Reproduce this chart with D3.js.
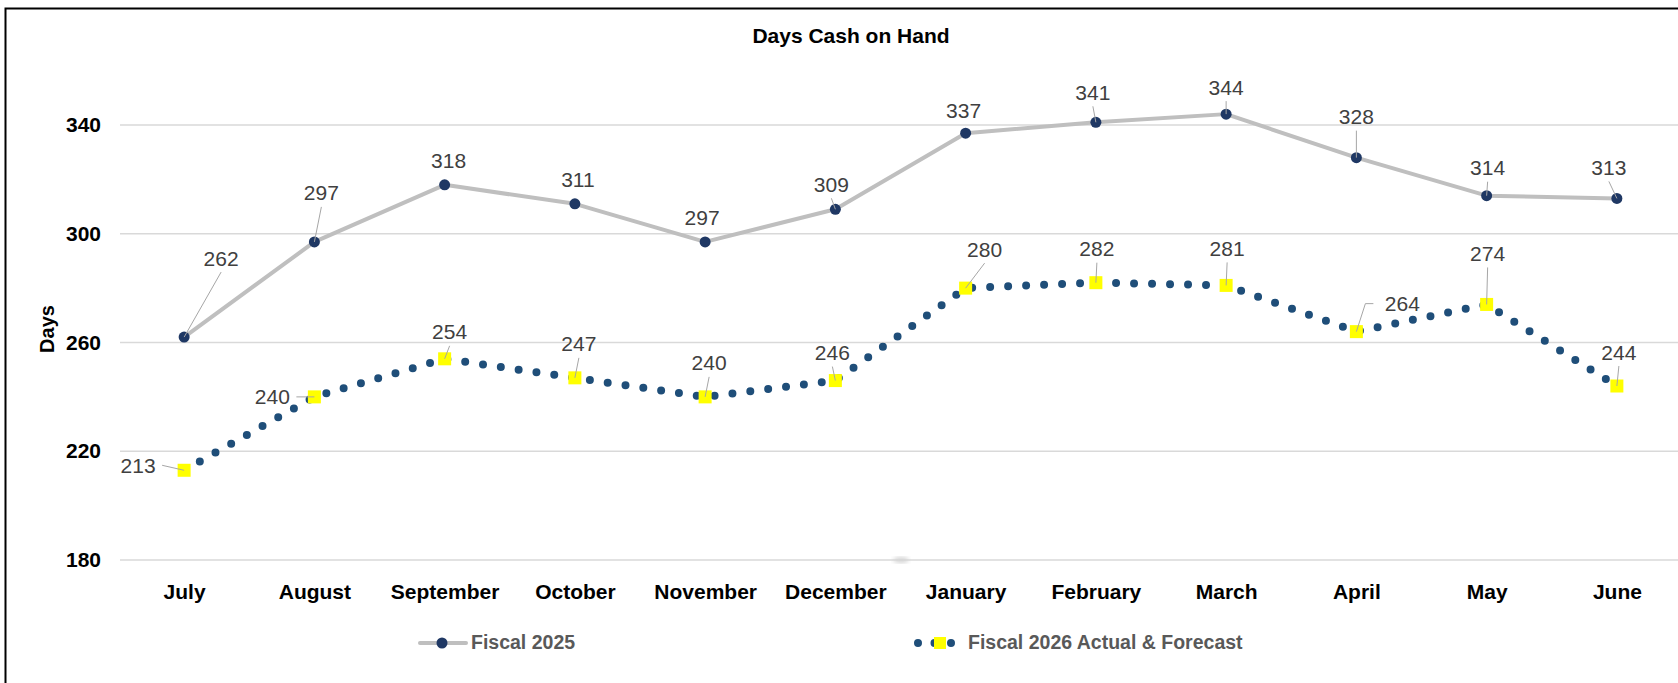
<!DOCTYPE html>
<html>
<head>
<meta charset="utf-8">
<script src="https://cdn.jsdelivr.net/npm/d3@7"></script>
<style>
  body { margin: 0; background: #fff; }
  svg { display: block; font-family: "Liberation Sans", Arial, sans-serif; }
</style>
</head>
<body>
<svg id="chart" width="1678" height="683"></svg>
<script>
const months = ["July", "August", "September", "October", "November", "December",
    "January", "February", "March", "April", "May", "June"];
const fiscal2025 = [262, 297, 318, 311, 297, 309, 337, 341, 344, 328, 314, 313];
const fiscal2026 = [213, 240, 254, 247, 240, 246, 280, 282, 281, 264, 274, 244];
const yTicks = [180, 220, 260, 300, 340];
const seriesNames = ["Fiscal 2025", "Fiscal 2026 Actual & Forecast"];

// where each data label sits relative to its point: dx, dy, leader type
// b = leader to label bottom, s = leader to label side, e = side with elbow
const labels2025 = [[37, -79, "b"], [7, -49, "b"], [4, -24, 0], [3, -24, 0], [-3, -24, 0], [-4, -25, "b"],
    [-2, -23, 0], [-3, -30, "b"], [0, -27, "b"], [0, -41, "b"], [1, -28, "b"], [-8, -31, "b"]];
const labels2026 = [[-46, -5, "s"], [-42, 0, "s"], [5, -27, "b"], [4, -34, "b"], [4, -34, "b"], [-3, -28, "b"],
    [19, -39, "b"], [1, -34, "b"], [1, -37, "b"], [46, -28, "e"], [1, -51, "b"], [2, -34, "b"]];

const svg = d3.select("#chart");

const x = d3.scalePoint()
    .domain(months)
    .range([119, 1682])
    .padding(0.5);

const y = d3.scaleLinear()
    .domain([180, 340])
    .range([560, 125]);

// frame
svg.append("rect")
    .attr("x", 5.5).attr("y", 8.5)
    .attr("width", 1800).attr("height", 800)
    .attr("fill", "none")
    .attr("stroke", "#000")
    .attr("stroke-width", 2);

// title
svg.append("text")
    .attr("x", 851).attr("y", 43)
    .attr("text-anchor", "middle")
    .style("font-size", "21px")
    .style("font-weight", "bold")
    .text("Days Cash on Hand");

// gridlines
svg.append("g")
    .selectAll("line")
    .data(yTicks)
    .join("line")
    .attr("x1", 120).attr("x2", 1682)
    .attr("y1", d => y(d)).attr("y2", d => y(d))
    .attr("stroke", "#d9d9d9")
    .attr("stroke-width", 1.5);

// faint smudge on the base line
const defs = svg.append("defs");
defs.append("filter").attr("id", "blur")
    .append("feGaussianBlur").attr("stdDeviation", 2);
svg.append("ellipse")
    .attr("cx", 901).attr("cy", 560).attr("rx", 8).attr("ry", 3)
    .attr("fill", "#d4d4d4")
    .attr("filter", "url(#blur)");

// y axis
const yAxis = svg.append("g")
    .attr("transform", "translate(101,0)")
    .call(d3.axisLeft(y).tickValues(yTicks).tickSize(0).tickPadding(0));
yAxis.select(".domain").remove();
yAxis.selectAll("text")
    .attr("fill", "#000")
    .style("font-size", "21px")
    .style("font-weight", "bold")
    .style("font-family", "'Liberation Sans', Arial, sans-serif");

svg.append("text")
    .attr("transform", "translate(54,329) rotate(-90)")
    .attr("text-anchor", "middle")
    .style("font-size", "20px")
    .style("font-weight", "bold")
    .text("Days");

// x axis
const xAxis = svg.append("g")
    .attr("transform", "translate(0,584)")
    .call(d3.axisBottom(x).tickSize(0).tickPadding(0));
xAxis.select(".domain").remove();
xAxis.selectAll("text")
    .attr("fill", "#000")
    .attr("dy", "0.71em")
    .style("font-size", "21px")
    .style("font-weight", "bold")
    .style("font-family", "'Liberation Sans', Arial, sans-serif");

// lines
const line = d3.line()
    .x((d, i) => x(months[i]))
    .y(d => y(d));

svg.append("path")
    .datum(fiscal2025)
    .attr("d", line)
    .attr("fill", "none")
    .attr("stroke", "#bfbfbf")
    .attr("stroke-width", 4)
    .attr("stroke-linejoin", "round");

svg.append("path")
    .datum(fiscal2026)
    .attr("d", line)
    .attr("fill", "none")
    .attr("stroke", "#1f4e79")
    .attr("stroke-width", 8)
    .attr("stroke-linecap", "round")
    .attr("stroke-dasharray", "0 18");

// markers
svg.append("g")
    .selectAll("circle")
    .data(fiscal2025)
    .join("circle")
    .attr("cx", (d, i) => x(months[i]))
    .attr("cy", d => y(d))
    .attr("r", 5.5)
    .attr("fill", "#1f3864");

svg.append("g")
    .selectAll("rect")
    .data(fiscal2026)
    .join("rect")
    .attr("x", (d, i) => x(months[i]) - 6.5)
    .attr("y", d => y(d) - 6.5)
    .attr("width", 13).attr("height", 13)
    .attr("fill", "#ffff00");

// data labels with leader lines
function leader(px, py, l) {
    const cx = px + l[0], cy = py + l[1];
    if (l[2] === "b") return `M${cx},${cy + 14}L${px},${py}`;
    if (l[2] === "s") {
        const sx = cx + (l[0] < 0 ? 24 : -24);
        return `M${sx},${cy}L${px},${py}`;
    }
    if (l[2] === "e") {
        const sx = cx - 29;
        return `M${sx},${cy}H${sx - 8}L${px},${py}`;
    }
    return null;
}

function drawLabels(values, layout) {
    const g = svg.append("g");
    values.forEach(function(v, i) {
        const px = x(months[i]), py = y(v), l = layout[i];
        const p = leader(px, py, l);
        if (p) {
            g.append("path")
                .attr("d", p)
                .attr("fill", "none")
                .attr("stroke", "#a6a6a6")
                .attr("stroke-width", 1);
        }
        g.append("text")
            .attr("x", px + l[0])
            .attr("y", py + l[1])
            .attr("dy", "0.36em")
            .attr("text-anchor", "middle")
            .attr("fill", "#404040")
            .style("font-size", "21px")
            .text(v);
    });
}
drawLabels(fiscal2025, labels2025);
drawLabels(fiscal2026, labels2026);

// legend
const legend = svg.append("g");
legend.append("line")
    .attr("x1", 420).attr("x2", 466).attr("y1", 643).attr("y2", 643)
    .attr("stroke", "#bfbfbf").attr("stroke-width", 4).attr("stroke-linecap", "round");
legend.append("circle")
    .attr("cx", 442).attr("cy", 643).attr("r", 5.5).attr("fill", "#1f3864");
legend.append("text")
    .attr("x", 471).attr("y", 649)
    .attr("fill", "#595959")
    .style("font-size", "19.5px").style("font-weight", "bold")
    .text(seriesNames[0]);

legend.append("line")
    .attr("x1", 918).attr("x2", 952).attr("y1", 643).attr("y2", 643)
    .attr("stroke", "#1f4e79").attr("stroke-width", 8)
    .attr("stroke-linecap", "round").attr("stroke-dasharray", "0 16.5");
legend.append("rect")
    .attr("x", 934).attr("y", 637).attr("width", 12).attr("height", 12)
    .attr("fill", "#ffff00");
legend.append("text")
    .attr("x", 968).attr("y", 649)
    .attr("fill", "#595959")
    .style("font-size", "19.5px").style("font-weight", "bold")
    .text(seriesNames[1]);
</script>
</body>
</html>
